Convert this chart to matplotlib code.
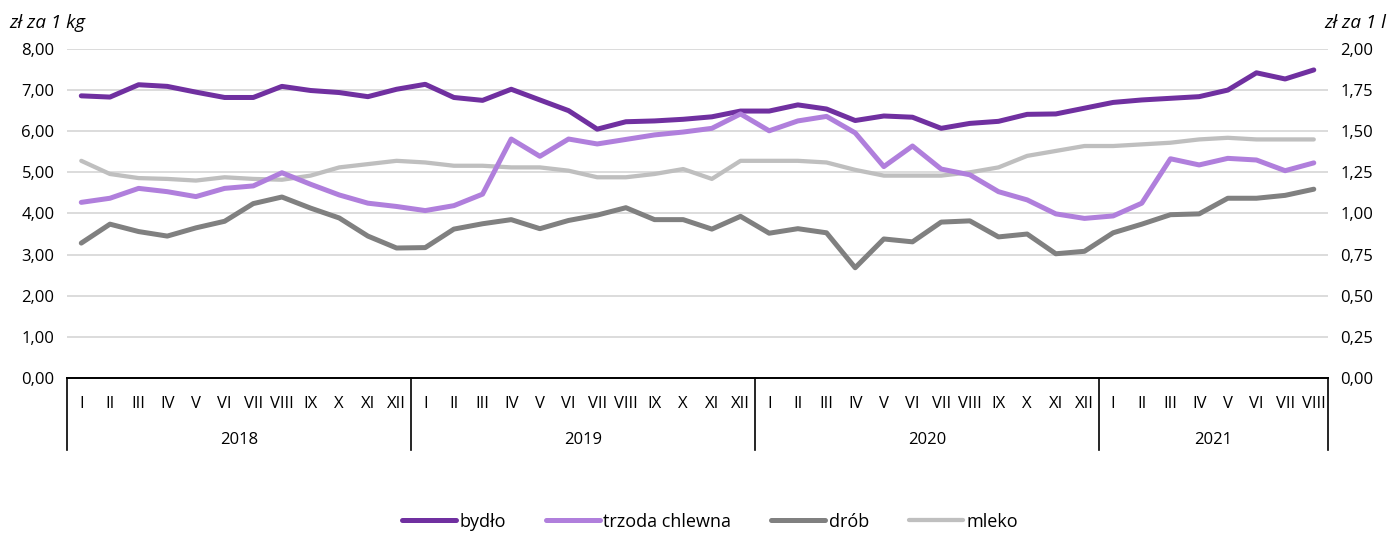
import matplotlib
matplotlib.use("Agg")
import matplotlib.pyplot as plt
import matplotlib.transforms as mtransforms

plt.rcParams['font.family'] = ['Open Sans', 'DejaVu Sans']

# miesiące i lata
months = ["I", "II", "III", "IV", "V", "VI", "VII", "VIII", "IX", "X", "XI", "XII"]
years = ["2018", "2019", "2020", "2021"]
months_in_year = [12, 12, 12, 8]

# zł za 1 kg
bydlo = [6.86, 6.83, 7.13, 7.09, 6.95, 6.82, 6.82, 7.09, 6.99, 6.94, 6.84, 7.02,
         7.14, 6.82, 6.75, 7.02, 6.76, 6.50, 6.05, 6.23, 6.25, 6.29, 6.35, 6.49,
         6.49, 6.64, 6.54, 6.26, 6.37, 6.34, 6.07, 6.19, 6.24, 6.41, 6.42, 6.56,
         6.70, 6.76, 6.80, 6.84, 7.00, 7.42, 7.27, 7.49]
trzoda = [4.27, 4.37, 4.61, 4.53, 4.41, 4.61, 4.67, 4.99, 4.71, 4.45, 4.25, 4.17,
          4.07, 4.19, 4.47, 5.81, 5.39, 5.81, 5.69, 5.80, 5.91, 5.98, 6.07, 6.42,
          6.01, 6.25, 6.36, 5.96, 5.14, 5.64, 5.08, 4.94, 4.53, 4.33, 3.99, 3.88,
          3.94, 4.25, 5.33, 5.18, 5.34, 5.30, 5.04, 5.23]
drob = [3.28, 3.74, 3.56, 3.45, 3.65, 3.81, 4.24, 4.40, 4.13, 3.89, 3.45, 3.16,
        3.17, 3.62, 3.75, 3.85, 3.63, 3.83, 3.96, 4.14, 3.85, 3.85, 3.62, 3.93,
        3.52, 3.63, 3.53, 2.68, 3.38, 3.31, 3.79, 3.82, 3.43, 3.50, 3.02, 3.08,
        3.53, 3.74, 3.97, 3.99, 4.37, 4.37, 4.44, 4.59]
# zł za 1 l
mleko = [1.32, 1.24, 1.215, 1.21, 1.20, 1.22, 1.21, 1.205, 1.23, 1.28, 1.30, 1.32,
         1.31, 1.29, 1.29, 1.28, 1.28, 1.26, 1.22, 1.22, 1.24, 1.27, 1.21, 1.32,
         1.32, 1.32, 1.31, 1.265, 1.23, 1.23, 1.23, 1.25, 1.28, 1.35, 1.38, 1.41,
         1.41, 1.42, 1.43, 1.45, 1.46, 1.45, 1.45, 1.45]

labels = []
for n in months_in_year:
    labels += months[:n]
x = list(range(len(labels)))

fig = plt.figure(figsize=(13.92, 5.35), dpi=100)
ax = fig.add_axes([0.0481, 0.2935, 0.906, 0.615])
ax2 = ax.twinx()
ax.set_zorder(ax2.get_zorder() + 1)
ax.patch.set_visible(False)

lw = 3.6
l1, = ax.plot(x, bydlo, color="#7030a0", lw=lw, solid_capstyle="round", label="bydło")
l2, = ax.plot(x, trzoda, color="#b07fdc", lw=lw, solid_capstyle="round", label="trzoda chlewna")
l3, = ax.plot(x, drob, color="#808080", lw=lw, solid_capstyle="round", label="drób")
l4, = ax2.plot(x, mleko, color="#bfbfbf", lw=lw * 0.85, solid_capstyle="round", label="mleko")

ax.set_xlim(-0.5, len(x) - 0.5)
ax.set_ylim(0, 8)
ax2.set_ylim(0, 2)
ax.set_yticks(range(0, 9))
ax.set_yticklabels([f"{v},00" for v in range(0, 9)])
rt = [i * 0.25 for i in range(9)]
ax2.set_yticks(rt)
ax2.set_yticklabels([f"{v:.2f}".replace(".", ",") for v in rt])
ax2.grid(axis="y", color="#d9d9d9", lw=1.3)
ax2.set_axisbelow(True)

for a in (ax, ax2):
    for s in ["top", "left", "right", "bottom"]:
        a.spines[s].set_visible(False)
    a.tick_params(axis="y", length=0, labelsize=12, colors="#000000", pad=9)
ax.spines["bottom"].set_visible(True)
ax.spines["bottom"].set_linewidth(1.4)

ax.set_xticks(x)
ax.set_xticklabels(labels, fontsize=12)
ax.tick_params(axis="x", length=0, pad=13)

# linie podziału lat i etykiety lat
trans = mtransforms.blended_transform_factory(ax.transData, ax.transAxes)
start = 0
bounds = [-0.5]
for yr, n in zip(years, months_in_year):
    ax.text(start + (n - 1) / 2, -0.19, yr, transform=trans, ha="center", va="center", fontsize=12)
    start += n
    bounds.append(start - 0.5)
for b in bounds:
    ax.plot([b, b], [0, -0.22], transform=trans, color="black", lw=1.2, clip_on=False)

fig.text(0.007, 0.957, "zł za 1 kg", fontsize=13.5, style="italic", ha="left", va="center")
fig.text(0.996, 0.957, "zł za 1 l", fontsize=13.5, style="italic", ha="right", va="center")

fig.legend(handles=[l1, l2, l3, l4], loc="lower center", bbox_to_anchor=(0.51, -0.022), ncol=4,
           frameon=False, fontsize=13, handlelength=3.0, handletextpad=0.2, columnspacing=2.2)

fig.savefig("out.png", dpi=100)
